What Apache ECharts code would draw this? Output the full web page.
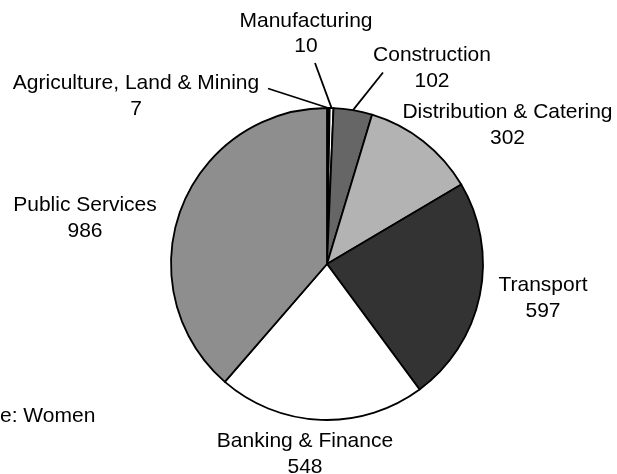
<!DOCTYPE html>
<html>
<head>
<meta charset="utf-8">
<script src="https://cdn.jsdelivr.net/npm/echarts@6/dist/echarts.min.js"></script>
<style>
  html, body { margin: 0; padding: 0; background: #fff; }
  #chart { width: 617px; height: 474px; }
</style>
</head>
<body>
<div id="chart"></div>
<script>
// Sectors, clockwise from twelve o'clock
const categories = [
  'Agriculture, Land & Mining',
  'Manufacturing',
  'Construction',
  'Distribution & Catering',
  'Transport',
  'Banking & Finance',
  'Public Services'
];
const values = [7, 10, 102, 302, 597, 548, 986];

// Grey-scale fills for each sector
const sliceColors = ['#000000', '#ffffff', '#666666', '#b3b3b3', '#333333', '#ffffff', '#8e8e8e'];

// Where each two-line label block is centred
const labelCenters = [
  [136, 96],
  [306, 33.5],
  [432, 68],
  [507.5, 125],
  [543, 298],
  [305, 454],
  [85, 218]
];
// Leader-line end next to the label (null = no leader line)
const leaderEnds = [
  [268, 88.5],
  [315, 63],
  [383, 72.5],
  null, null, null, null
];

const FONT = '"Liberation Sans", Arial, Helvetica, sans-serif';

const chart = echarts.init(document.getElementById('chart'), null, { renderer: 'canvas' });

chart.setOption({
  animation: false,
  backgroundColor: '#ffffff',
  graphic: [{
    type: 'text',
    left: 0,
    top: 406,
    style: {
      text: 'e: Women',
      font: '21px ' + FONT,
      fill: '#000'
    }
  }],
  series: [{
    type: 'pie',
    center: [327, 264],
    radius: 156,
    startAngle: 90,
    clockwise: true,
    avoidLabelOverlap: false,
    emphasis: { disabled: true },
    itemStyle: { borderColor: '#000', borderWidth: 1.8 },
    label: {
      show: true,
      position: 'outside',
      formatter: '{b}\n{c}',
      fontFamily: FONT,
      fontSize: 21,
      lineHeight: 25.5,
      color: '#000',
      align: 'center'
    },
    labelLine: {
      show: true,
      length: 10,
      length2: 10,
      lineStyle: { color: '#000', width: 1.8 }
    },
    labelLayout: function (params) {
      const i = params.dataIndex;
      const c = labelCenters[i];
      const out = { x: c[0], y: c[1], align: 'center', verticalAlign: 'middle' };
      const end = leaderEnds[i];
      if (end && params.labelLinePoints) {
        out.labelLinePoints = [params.labelLinePoints[0], end, end];
      }
      return out;
    },
    data: categories.map(function (name, i) {
      return {
        name: name,
        value: values[i],
        itemStyle: { color: sliceColors[i] },
        labelLine: { show: leaderEnds[i] !== null }
      };
    })
  }]
});
</script>
</body>
</html>
